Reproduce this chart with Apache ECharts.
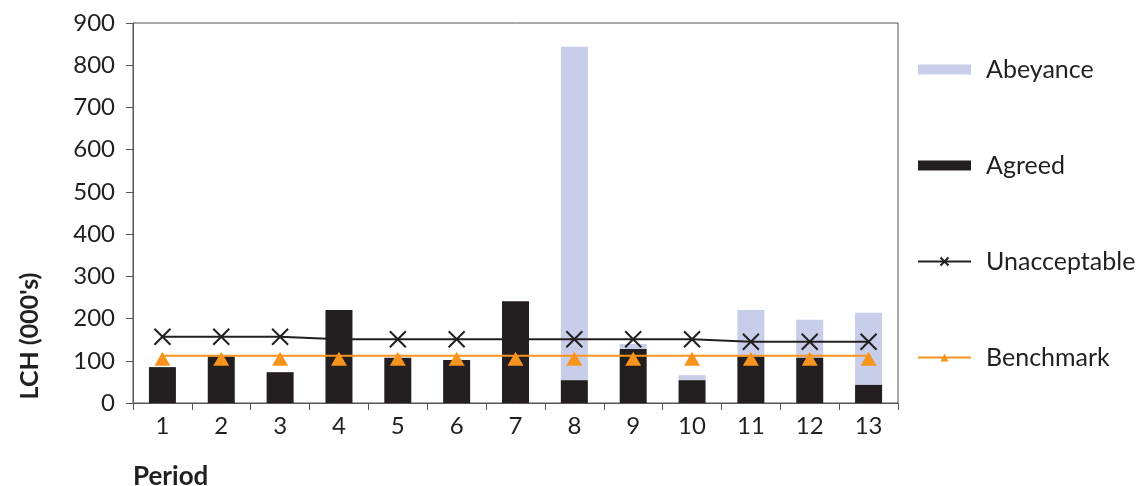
<!DOCTYPE html>
<html>
<head>
<meta charset="utf-8">
<script src="https://cdn.jsdelivr.net/npm/echarts@6/dist/echarts.min.js"></script>
<style>
  html, body { margin: 0; padding: 0; background: #fff; }
  #chart { width: 1143px; height: 486px; }
</style>
</head>
<body>
<div id="chart"></div>
<script>
// Periods along the x axis
const periods = ['1', '2', '3', '4', '5', '6', '7', '8', '9', '10', '11', '12', '13'];
// Agreed volume (bottom of each stack), thousands
const agreed = [85, 110, 73, 220, 107, 102, 241, 54, 128, 54, 110, 107, 43];
// Volume in abeyance (stacked on top of agreed), thousands
const abeyance = [0, 0, 0, 0, 0, 0, 0, 790, 12, 12, 110, 90, 171];
// Unacceptable threshold per period
const unacceptable = [157, 157, 157, 151, 151, 151, 151, 151, 151, 151, 145, 145, 145];
// Benchmark level per period
const benchmark = [112, 112, 112, 112, 112, 112, 112, 112, 112, 112, 112, 112, 112];
// Value axis ticks
const yTicks = [0, 100, 200, 300, 400, 500, 600, 700, 800, 900];

const FONT = 'Lato, "Noto Sans", sans-serif';
const INK = '#231f20';
const AXIS = '#555555';

const chart = echarts.init(document.getElementById('chart'), null, { renderer: 'canvas' });

chart.setOption({
  animation: false,
  backgroundColor: '#ffffff',
  textStyle: { fontFamily: FONT, color: INK },
  grid: {
    left: 133, top: 23, right: 245, bottom: 83,
    show: true, borderColor: AXIS, borderWidth: 1
  },
  legend: {
    orient: 'vertical',
    left: 917, top: 57,
    padding: 0,
    itemGap: 71,
    itemWidth: 53, itemHeight: 10,
    textStyle: { fontFamily: FONT, fontSize: 25, color: INK, padding: [0, 0, 0, 10] },
    data: [
      { name: 'Abeyance', icon: 'rect' },
      { name: 'Agreed', icon: 'rect' },
      { name: 'Unacceptable' },
      { name: 'Benchmark' }
    ]
  },
  xAxis: {
    type: 'category',
    data: periods,
    boundaryGap: true,
    axisLine: { lineStyle: { color: AXIS, width: 1 } },
    axisTick: { show: true, alignWithLabel: false, length: 7, lineStyle: { color: AXIS } },
    axisLabel: { fontFamily: FONT, fontSize: 24, color: INK, margin: 11 },
    splitLine: { show: false }
  },
  yAxis: {
    type: 'value',
    min: yTicks[0], max: yTicks[yTicks.length - 1], interval: 100,
    axisLine: { show: true, lineStyle: { color: AXIS, width: 1 } },
    axisTick: { show: true, length: 7, lineStyle: { color: AXIS } },
    axisLabel: { fontFamily: FONT, fontSize: 24, color: INK, margin: 18 },
    splitLine: { show: false }
  },
  graphic: [
    {
      type: 'text', x: 30, y: 336, rotation: Math.PI / 2,
      style: {
        text: "LCH (000's)", fontFamily: FONT, fontSize: 25, fontWeight: 'bold',
        fill: INK, align: 'center', verticalAlign: 'middle'
      }
    },
    {
      type: 'text', x: 133, y: 477,
      style: {
        text: 'Period', fontFamily: FONT, fontSize: 26, fontWeight: 'bold',
        fill: INK, align: 'left', verticalAlign: 'middle'
      }
    }
  ],
  series: [
    {
      name: 'Agreed', type: 'bar', stack: 'total', data: agreed,
      barWidth: 27, z: 4,
      itemStyle: { color: INK }
    },
    {
      name: 'Abeyance', type: 'bar', stack: 'total', data: abeyance,
      barWidth: 27, z: 2,
      itemStyle: { color: '#c8cde9' }
    },
    {
      name: 'Unacceptable', type: 'line', data: unacceptable, z: 3,
      symbol: 'path://M0,0L10,10M10,0L0,10', symbolSize: 16,
      showAllSymbol: true,
      lineStyle: { color: INK, width: 2 },
      itemStyle: { color: INK, borderColor: INK, borderWidth: 2 }
    },
    {
      name: 'Benchmark', type: 'line', data: benchmark, z: 5,
      symbol: 'triangle', symbolSize: [16, 14], symbolOffset: [0, 3],
      showAllSymbol: true,
      lineStyle: { color: '#f7941d', width: 2 },
      itemStyle: { color: '#f7941d' }
    }
  ]
});
</script>
</body>
</html>
